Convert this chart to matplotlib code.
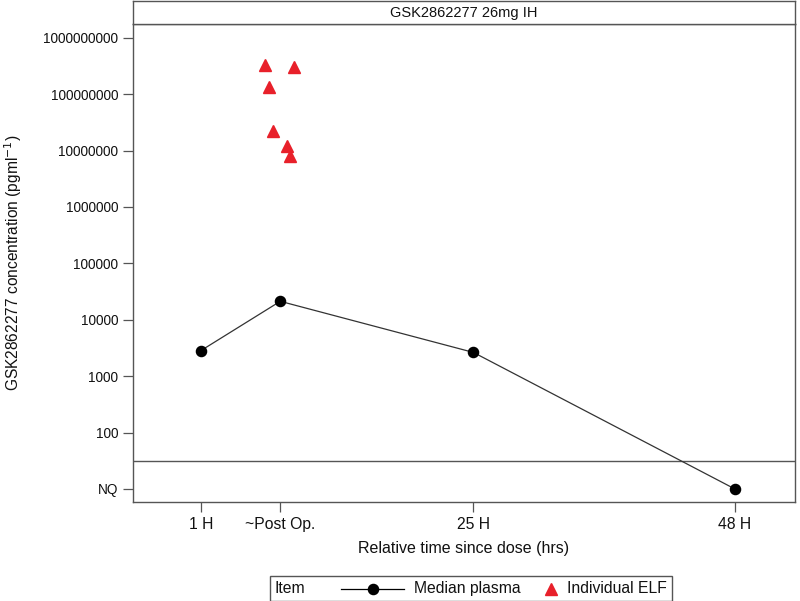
import matplotlib
matplotlib.use("Agg")
import matplotlib.pyplot as plt
from matplotlib.lines import Line2D
from matplotlib.offsetbox import TextArea, DrawingArea, HPacker, AnchoredOffsetbox

plt.rcParams['font.family'] = ['Liberation Sans', 'DejaVu Sans']

# ---- data ----
title = "GSK2862277 26mg IH"
time_labels = ["1 H", "~Post Op.", "25 H", "48 H"]
time_hours = [1, 8, 25, 48]
plasma_median = [2820, 21200, 2630, "NQ"]
elf_hours = [6.66, 9.21, 7.0, 7.36, 8.6, 8.86]
elf_values = [3.3e8, 3.0e8, 1.34e8, 2.2e7, 1.2e7, 7.9e6]
ytick_values = [10, 100, 1000, 10000, 100000, 1000000, 10000000, 100000000, 1000000000]
ytick_labels = ["NQ", "100", "1000", "10000", "100000", "1000000", "10000000", "100000000", "1000000000"]
NQ_POS = 10
NQ_LINE = 31.6

frame_col = '#555555'
line_col = '#333333'
red = '#e8202a'

fig = plt.figure(figsize=(8.0, 6.01), dpi=100)
ax = fig.add_axes([133/800, 1-502/601, (795-133)/800, (502-24)/601])
hax = fig.add_axes([133/800, 1-24/601, (795-133)/800, 23/601])

plasma_y = [NQ_POS if v == "NQ" else v for v in plasma_median]
ax.plot(time_hours, plasma_y, color=line_col, lw=0.9, marker='o', ms=7.3,
        mfc='black', mec='black', zorder=3)
ax.plot(elf_hours, elf_values, linestyle='none', marker='^', ms=8.5,
        color=red, mec=red, zorder=4)
ax.axhline(NQ_LINE, color=frame_col, lw=1.0)

ax.set_yscale('log')
ax.set_ylim(10**0.768, 10**9.243)
ax.set_xlim(-4.96, 53.3)
ax.set_yticks(ytick_values)
ax.set_yticklabels(ytick_labels)
ax.minorticks_off()
ax.set_xticks(time_hours)
ax.set_xticklabels(time_labels)
ax.tick_params(axis='both', length=7, width=0.9, color=frame_col, labelsize=9.8,
               pad=3.5, labelcolor='#111111')
ax.tick_params(axis='x', labelsize=11.3, pad=4)
for s in ax.spines.values():
    s.set_color(frame_col)
    s.set_linewidth(1.0)
ax.set_xlabel("Relative time since dose (hrs)", fontsize=11.5, labelpad=6, color='#111111')
ax.set_ylabel("GSK2862277 concentration (pgml$^{-1}$)", fontsize=11.2, labelpad=14, color='#111111')

hax.set_xticks([])
hax.set_yticks([])
for s in hax.spines.values():
    s.set_color(frame_col)
    s.set_linewidth(1.0)
hax.text(0.5, 0.5, title, ha='center', va='center', fontsize=10.5, transform=hax.transAxes,
         color='#111111')

# ---- legend ----
fs = 11.3
t_item = TextArea("Item", textprops=dict(fontsize=fs, color='#111111'))
spacer = DrawingArea(12, 10, 0, 0)
da1 = DrawingArea(45, 12, 0, 0)
da1.add_artist(Line2D([0, 45], [6, 6], color='black', lw=0.9))
da1.add_artist(Line2D([22.5], [6], marker='o', ms=7.3, color='black'))
t1 = TextArea("Median plasma", textprops=dict(fontsize=fs, color='#111111'))
da2 = DrawingArea(10, 12, 0, 0)
da2.add_artist(Line2D([5], [6], marker='^', ms=8.5, color=red, mec=red))
spacer2 = DrawingArea(3, 10, 0, 0)
t2 = TextArea("Individual ELF", textprops=dict(fontsize=fs, color='#111111'))
box = HPacker(children=[t_item, spacer, da1, t1, spacer2, da2, t2], align='center', pad=0, sep=7)
anch = AnchoredOffsetbox(loc='lower center', child=box, pad=0.3, borderpad=0,
                         frameon=True, bbox_to_anchor=(471/800, 0.0),
                         bbox_transform=fig.transFigure)
anch.patch.set_edgecolor(frame_col)
anch.patch.set_linewidth(1.0)
anch.patch.set_boxstyle('square', pad=0)
fig.add_artist(anch)

fig.savefig("out.png", dpi=100)
